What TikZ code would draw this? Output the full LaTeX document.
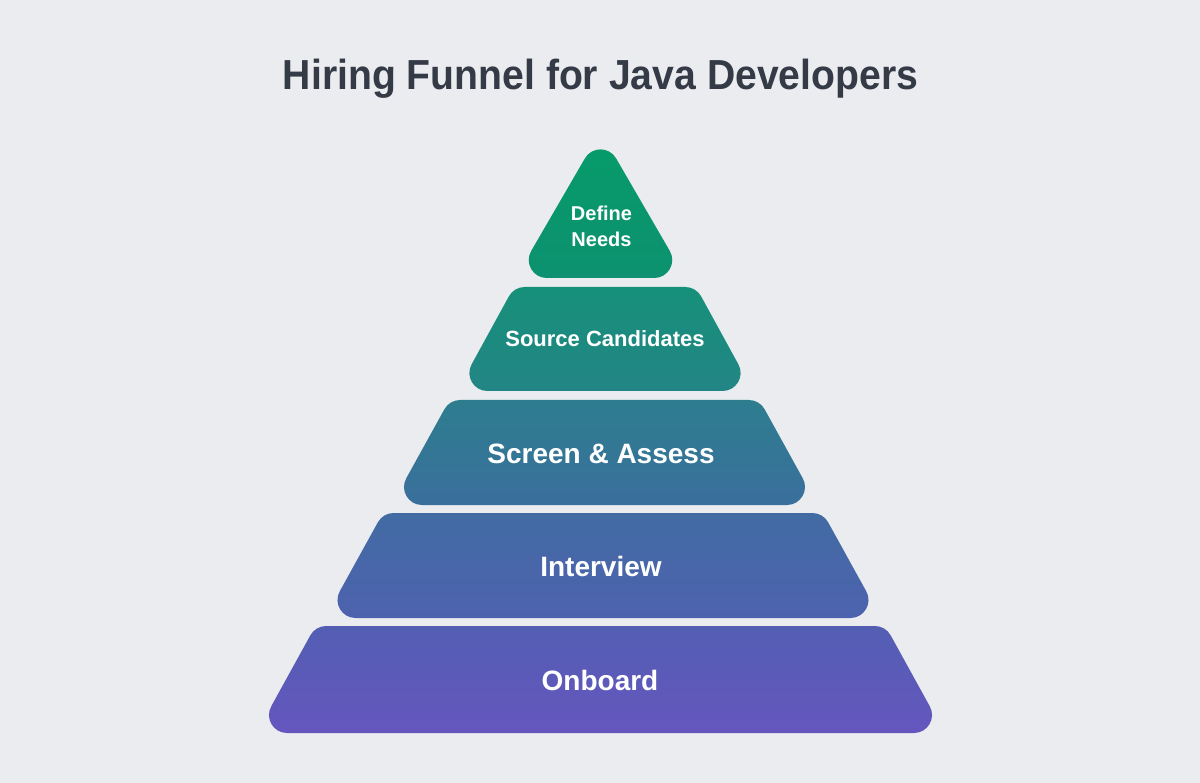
\documentclass[tikz,border=0pt]{standalone}
\usepackage{fontspec}
\setmainfont{Liberation Sans}
\usepackage{graphicx}
\usetikzlibrary{calc}
\definecolor{bg}{HTML}{EBECF0}
\definecolor{titlec}{HTML}{343A46}
\definecolor{cAt}{HTML}{069B69}\definecolor{cAb}{HTML}{0D9170}
\definecolor{cBt}{HTML}{17907A}\definecolor{cBb}{HTML}{228585}
\definecolor{cCt}{HTML}{2D7D8F}\definecolor{cCb}{HTML}{3A6F9C}
\definecolor{cDt}{HTML}{426BA3}\definecolor{cDb}{HTML}{4D62AE}
\definecolor{cEt}{HTML}{535EB3}\definecolor{cEb}{HTML}{6556BE}
\tikzset{
  layertext/.style={text=white, inner sep=0pt, align=center},
  bigtext/.style={layertext, anchor=base, font=\bfseries\fontsize{28}{34}\selectfont},
}
% trapezoid with round corners: name, yt, yb, half top, half bottom, R, top colour, bottom colour, centre x
\newcommand\trapez[9]{%
  \pgfmathsetmacro\thA{atan((#5-#4)/(#3-#2))}%
  \pgfmathsetmacro\dT{#6/tan(45+\thA/2)}%
  \pgfmathsetmacro\dB{#6/tan(45-\thA/2)}%
  \pgfmathsetmacro\kT{4/3*tan((90-\thA)/4)/tan((90-\thA)/2)}%
  \pgfmathsetmacro\kB{4/3*tan((90+\thA)/4)/tan((90+\thA)/2)}%
  \coordinate (#1-tr) at ({#9+#4},#2);
  \coordinate (#1-br) at ({#9+#5},#3);
  \coordinate (#1-bl) at ({#9-#5},#3);
  \coordinate (#1-tl) at ({#9-#4},#2);
  \coordinate (#1-a1) at ($(#1-tr)!\dT pt!(#1-tl)$);
  \coordinate (#1-b1) at ($(#1-tr)!\dT pt!(#1-br)$);
  \coordinate (#1-a2) at ($(#1-br)!\dB pt!(#1-tr)$);
  \coordinate (#1-b2) at ($(#1-br)!\dB pt!(#1-bl)$);
  \coordinate (#1-a3) at ($(#1-bl)!\dB pt!(#1-br)$);
  \coordinate (#1-b3) at ($(#1-bl)!\dB pt!(#1-tl)$);
  \coordinate (#1-a4) at ($(#1-tl)!\dT pt!(#1-bl)$);
  \coordinate (#1-b4) at ($(#1-tl)!\dT pt!(#1-tr)$);
  \shade[top color=#7, bottom color=#8] (#9,#2) -- (#1-a1)
    .. controls ($(#1-a1)!\kT!(#1-tr)$) and ($(#1-b1)!\kT!(#1-tr)$) .. (#1-b1)
    -- (#1-a2)
    .. controls ($(#1-a2)!\kB!(#1-br)$) and ($(#1-b2)!\kB!(#1-br)$) .. (#1-b2)
    -- (#1-a3)
    .. controls ($(#1-a3)!\kB!(#1-bl)$) and ($(#1-b3)!\kB!(#1-bl)$) .. (#1-b3)
    -- (#1-a4)
    .. controls ($(#1-a4)!\kT!(#1-tl)$) and ($(#1-b4)!\kT!(#1-tl)$) .. (#1-b4)
    -- cycle;
}
% triangle with round corners: name, apex y, base y, half base, R, top colour, bottom colour, centre x
\newcommand\triang[8]{%
  \pgfmathsetmacro\thA{atan(#4/(#3-#2))}%
  \pgfmathsetmacro\dA{#5/tan(\thA)}%
  \pgfmathsetmacro\dB{#5/tan(45-\thA/2)}%
  \pgfmathsetmacro\kA{4/3*tan((180-2*\thA)/4)/tan((180-2*\thA)/2)}%
  \pgfmathsetmacro\kB{4/3*tan((90+\thA)/4)/tan((90+\thA)/2)}%
  \coordinate (#1-t) at (#8,#2);
  \coordinate (#1-br) at ({#8+#4},#3);
  \coordinate (#1-bl) at ({#8-#4},#3);
  \coordinate (#1-p1) at ($(#1-bl)!\dB pt!(#1-br)$);
  \coordinate (#1-p2) at ($(#1-bl)!\dB pt!(#1-t)$);
  \coordinate (#1-p3) at ($(#1-t)!\dA pt!(#1-bl)$);
  \coordinate (#1-p4) at ($(#1-t)!\dA pt!(#1-br)$);
  \coordinate (#1-p5) at ($(#1-br)!\dB pt!(#1-t)$);
  \coordinate (#1-p6) at ($(#1-br)!\dB pt!(#1-bl)$);
  \shade[top color=#6, bottom color=#7] (#8,#3) -- (#1-p1)
    .. controls ($(#1-p1)!\kB!(#1-bl)$) and ($(#1-p2)!\kB!(#1-bl)$) .. (#1-p2)
    -- (#1-p3)
    .. controls ($(#1-p3)!\kA!(#1-t)$) and ($(#1-p4)!\kA!(#1-t)$) .. (#1-p4)
    -- (#1-p5)
    .. controls ($(#1-p5)!\kB!(#1-br)$) and ($(#1-p6)!\kB!(#1-br)$) .. (#1-p6)
    -- cycle;
}
\begin{document}
\begin{tikzpicture}[x=1pt,y=-1pt]
  \useasboundingbox (0,0) rectangle (1200,783);
  \fill[bg] (0,0) rectangle (1200,783);

  \node[anchor=base, text=titlec, inner sep=0pt] (title) at (600.5,89.3)
    {\scalebox{0.932}[1]{\fontsize{42}{50}\selectfont\bfseries Hiring Funnel for Java Developers}};

  \triang{L1}{131.5}{278}{85}{18}{cAt}{cAb}{600.5}
  \trapez{L2}{287}{391}{91}{148}{18}{cBt}{cBb}{605}
  \trapez{L3}{400}{505}{155}{213}{18}{cCt}{cCb}{604.5}
  \trapez{L4}{513}{618}{220}{278}{18}{cDt}{cDb}{603}
  \trapez{L5}{626}{733}{285}{344}{18}{cEt}{cEb}{600.5}

  \node[layertext, font=\bfseries\fontsize{20}{26}\selectfont] (t1) at (601.5,226.3) {Define\\Needs};
  \node[layertext, anchor=base, font=\bfseries\fontsize{22}{26}\selectfont] (t2) at (605,346.5) {Source Candidates};
  \node[bigtext] (t3) at (601,463.3) {Screen \& Assess};
  \node[bigtext] (t4) at (601,576.5) {Interview};
  \node[bigtext] (t5) at (600,690.5) {Onboard};
\end{tikzpicture}
\end{document}
